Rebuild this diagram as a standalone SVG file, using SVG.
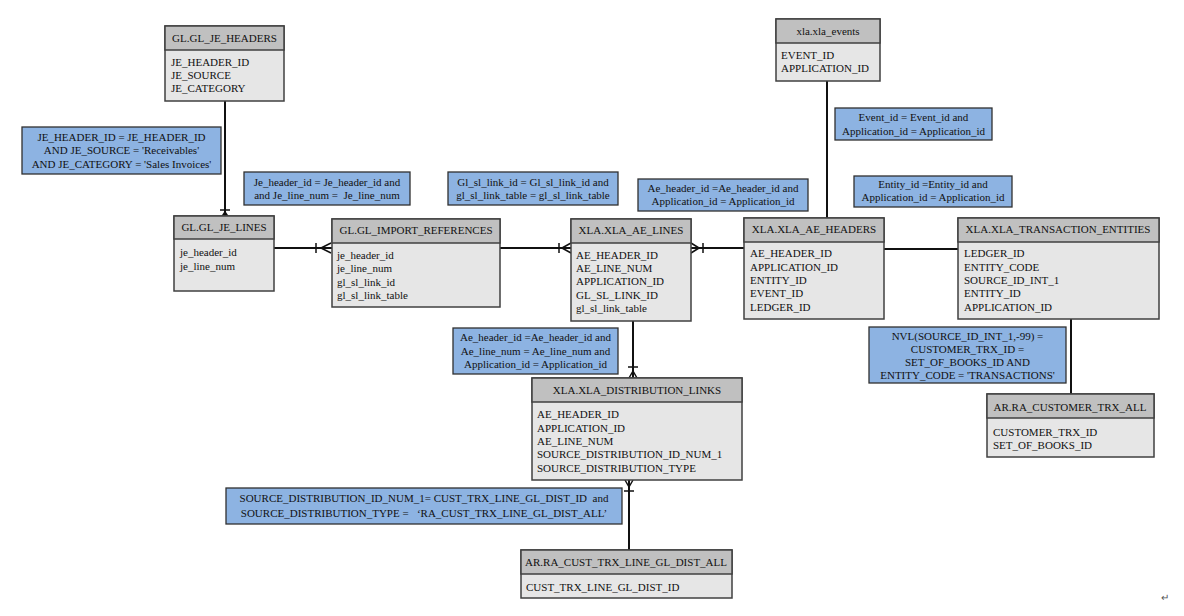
<svg xmlns="http://www.w3.org/2000/svg" width="1184" height="616" viewBox="0 0 1184 616">
<style>
text{font-family:"Liberation Serif","Times New Roman",serif;font-size:11px;fill:#111}
.c{text-anchor:middle}
.box{fill:#e6e6e6;stroke:#404040;stroke-width:1.5}
.hd{fill:#c0c0c0;stroke:#404040;stroke-width:1.5}
.note{fill:#8db3e2;stroke:#303030;stroke-width:1.3}
.ln{stroke:#111;stroke-width:2;fill:none}
.cf{stroke:#111;stroke-width:1.5;fill:none}
</style>
<rect width="1184" height="616" fill="#fff"/>
<g id="connectors">
  <path class="ln" d="M225 101V218"/>
  <path class="cf" d="M220 210H230M225 212L221 218M225 212L229 218M225 212V218"/>
  <path class="ln" d="M274 248H332"/>
  <path class="cf" d="M316 243V253M321 248L331 243M321 248L331 253M321 248H331"/>
  <path class="ln" d="M500 248H571"/>
  <path class="cf" d="M559 243V253M562 248L571 243M562 248L571 253"/>
  <path class="ln" d="M691 248H744"/>
  <path class="cf" d="M703 243V253M699 248L691 243M699 248L691 253"/>
  <path class="ln" d="M827 81V218"/>
  <path class="ln" d="M884 249H958"/>
  <path class="ln" d="M1071 319V394"/>
  <path class="ln" d="M633 321V378"/>
  <path class="cf" d="M628 367H638M633 371L629 378M633 371L637 378M633 371V378"/>
  <path class="ln" d="M629 480V550"/>
  <path class="cf" d="M624 491H634M629 487L625 480M629 487L633 480"/>
</g>
<g id="gl_je_headers">
  <rect class="box" x="165" y="26" width="119" height="75"/>
  <rect class="hd" x="165" y="26" width="119" height="24"/>
  <text class="c" x="224.5" y="42">GL.GL_JE_HEADERS</text>
  <text x="171" y="66">JE_HEADER_ID</text>
  <text x="171" y="79">JE_SOURCE</text>
  <text x="171" y="92">JE_CATEGORY</text>
</g>
<g id="gl_je_lines">
  <rect class="box" x="174" y="216" width="100" height="75"/>
  <rect class="hd" x="174" y="216" width="100" height="23"/>
  <text class="c" x="224" y="231">GL.GL_JE_LINES</text>
  <text x="180" y="256">je_header_id</text>
  <text x="180" y="270">je_line_num</text>
</g>
<g id="gl_import_references">
  <rect class="box" x="332" y="219" width="168" height="88"/>
  <rect class="hd" x="332" y="219" width="168" height="24"/>
  <text class="c" x="416" y="234">GL.GL_IMPORT_REFERENCES</text>
  <text x="337" y="259">je_header_id</text>
  <text x="337" y="272">je_line_num</text>
  <text x="337" y="286">gl_sl_link_id</text>
  <text x="337" y="299">gl_sl_link_table</text>
</g>
<g id="xla_ae_lines">
  <rect class="box" x="571" y="219" width="120" height="102"/>
  <rect class="hd" x="571" y="219" width="120" height="24"/>
  <text class="c" x="631" y="234">XLA.XLA_AE_LINES</text>
  <text x="576" y="259">AE_HEADER_ID</text>
  <text x="576" y="272">AE_LINE_NUM</text>
  <text x="576" y="285">APPLICATION_ID</text>
  <text x="576" y="299">GL_SL_LINK_ID</text>
  <text x="576" y="312">gl_sl_link_table</text>
</g>
<g id="xla_ae_headers">
  <rect class="box" x="744" y="218" width="140" height="101"/>
  <rect class="hd" x="744" y="218" width="140" height="24"/>
  <text class="c" x="814" y="233">XLA.XLA_AE_HEADERS</text>
  <text x="750" y="257">AE_HEADER_ID</text>
  <text x="750" y="271">APPLICATION_ID</text>
  <text x="750" y="284">ENTITY_ID</text>
  <text x="750" y="297">EVENT_ID</text>
  <text x="750" y="311">LEDGER_ID</text>
</g>
<g id="xla_events">
  <rect class="box" x="776" y="19" width="104" height="62"/>
  <rect class="hd" x="776" y="19" width="104" height="24"/>
  <text class="c" x="828" y="35">xla.xla_events</text>
  <text x="781" y="59">EVENT_ID</text>
  <text x="781" y="72">APPLICATION_ID</text>
</g>
<g id="xla_transaction_entities">
  <rect class="box" x="958" y="218" width="201" height="101"/>
  <rect class="hd" x="958" y="218" width="201" height="24"/>
  <text class="c" x="1058" y="233">XLA.XLA_TRANSACTION_ENTITIES</text>
  <text x="964" y="257">LEDGER_ID</text>
  <text x="964" y="271">ENTITY_CODE</text>
  <text x="964" y="284">SOURCE_ID_INT_1</text>
  <text x="964" y="297">ENTITY_ID</text>
  <text x="964" y="311">APPLICATION_ID</text>
</g>
<g id="ar_ra_customer_trx_all">
  <rect class="box" x="987" y="394" width="167" height="63"/>
  <rect class="hd" x="987" y="394" width="167" height="24"/>
  <text class="c" x="1070" y="411">AR.RA_CUSTOMER_TRX_ALL</text>
  <text x="993" y="436">CUSTOMER_TRX_ID</text>
  <text x="993" y="449">SET_OF_BOOKS_ID</text>
</g>
<g id="xla_distribution_links">
  <rect class="box" x="532" y="378" width="210" height="102"/>
  <rect class="hd" x="532" y="378" width="210" height="24"/>
  <text class="c" x="637" y="394">XLA.XLA_DISTRIBUTION_LINKS</text>
  <text x="537" y="418">AE_HEADER_ID</text>
  <text x="537" y="432">APPLICATION_ID</text>
  <text x="537" y="445">AE_LINE_NUM</text>
  <text x="537" y="458">SOURCE_DISTRIBUTION_ID_NUM_1</text>
  <text x="537" y="472">SOURCE_DISTRIBUTION_TYPE</text>
</g>
<g id="ar_ra_cust_trx_line_gl_dist_all">
  <rect class="box" x="521" y="550" width="211" height="48"/>
  <rect class="hd" x="521" y="550" width="211" height="24"/>
  <text class="c" x="626" y="566">AR.RA_CUST_TRX_LINE_GL_DIST_ALL</text>
  <text x="526" y="591">CUST_TRX_LINE_GL_DIST_ID</text>
</g>
<g id="note_je_headers">
  <rect class="note" x="22" y="127" width="199" height="47"/>
  <text class="c" x="121.5" y="141">JE_HEADER_ID = JE_HEADER_ID</text>
  <text class="c" x="121.5" y="154">AND JE_SOURCE = 'Receivables'</text>
  <text class="c" x="121.5" y="168">AND JE_CATEGORY = 'Sales Invoices'</text>
</g>
<g id="note_je_lines">
  <rect class="note" x="244" y="172" width="166" height="33"/>
  <text class="c" x="327" y="186">Je_header_id = Je_header_id and</text>
  <text class="c" x="327" y="199" xml:space="preserve">and Je_line_num =  Je_line_num</text>
</g>
<g id="note_import_refs">
  <rect class="note" x="448" y="172" width="170" height="33"/>
  <text class="c" x="533" y="186">Gl_sl_link_id = Gl_sl_link_id and</text>
  <text class="c" x="533" y="199">gl_sl_link_table = gl_sl_link_table</text>
</g>
<g id="note_ae_headers">
  <rect class="note" x="638" y="179" width="170" height="32"/>
  <text class="c" x="723" y="192">Ae_header_id =Ae_header_id and</text>
  <text class="c" x="723" y="205">Application_id = Application_id</text>
</g>
<g id="note_events">
  <rect class="note" x="835" y="108" width="157" height="32"/>
  <text class="c" x="913.5" y="121">Event_id = Event_id and</text>
  <text class="c" x="913.5" y="135">Application_id = Application_id</text>
</g>
<g id="note_entities">
  <rect class="note" x="854" y="176" width="158" height="31"/>
  <text class="c" x="933" y="188">Entity_id =Entity_id and</text>
  <text class="c" x="933" y="201">Application_id = Application_id</text>
</g>
<g id="note_customer_trx">
  <rect class="note" x="869" y="327" width="197" height="56"/>
  <text class="c" x="967.5" y="340">NVL(SOURCE_ID_INT_1,-99) =</text>
  <text class="c" x="967.5" y="353">CUSTOMER_TRX_ID =</text>
  <text class="c" x="967.5" y="366">SET_OF_BOOKS_ID AND</text>
  <text class="c" x="967.5" y="379">ENTITY_CODE = 'TRANSACTIONS'</text>
</g>
<g id="note_distribution">
  <rect class="note" x="453" y="328" width="165" height="46"/>
  <text class="c" x="535.5" y="341">Ae_header_id =Ae_header_id and</text>
  <text class="c" x="535.5" y="355">Ae_line_num = Ae_line_num and</text>
  <text class="c" x="535.5" y="368">Application_id = Application_id</text>
</g>
<g id="note_gl_dist">
  <rect class="note" x="226" y="488" width="396" height="36"/>
  <text class="c" x="424" y="502" xml:space="preserve">SOURCE_DISTRIBUTION_ID_NUM_1= CUST_TRX_LINE_GL_DIST_ID  and</text>
  <text class="c" x="424" y="517" xml:space="preserve">SOURCE_DISTRIBUTION_TYPE =   ‘RA_CUST_TRX_LINE_GL_DIST_ALL’</text>
</g>
<text x="1161" y="601" style="font-size:10px;fill:#555">↵</text>
</svg>
